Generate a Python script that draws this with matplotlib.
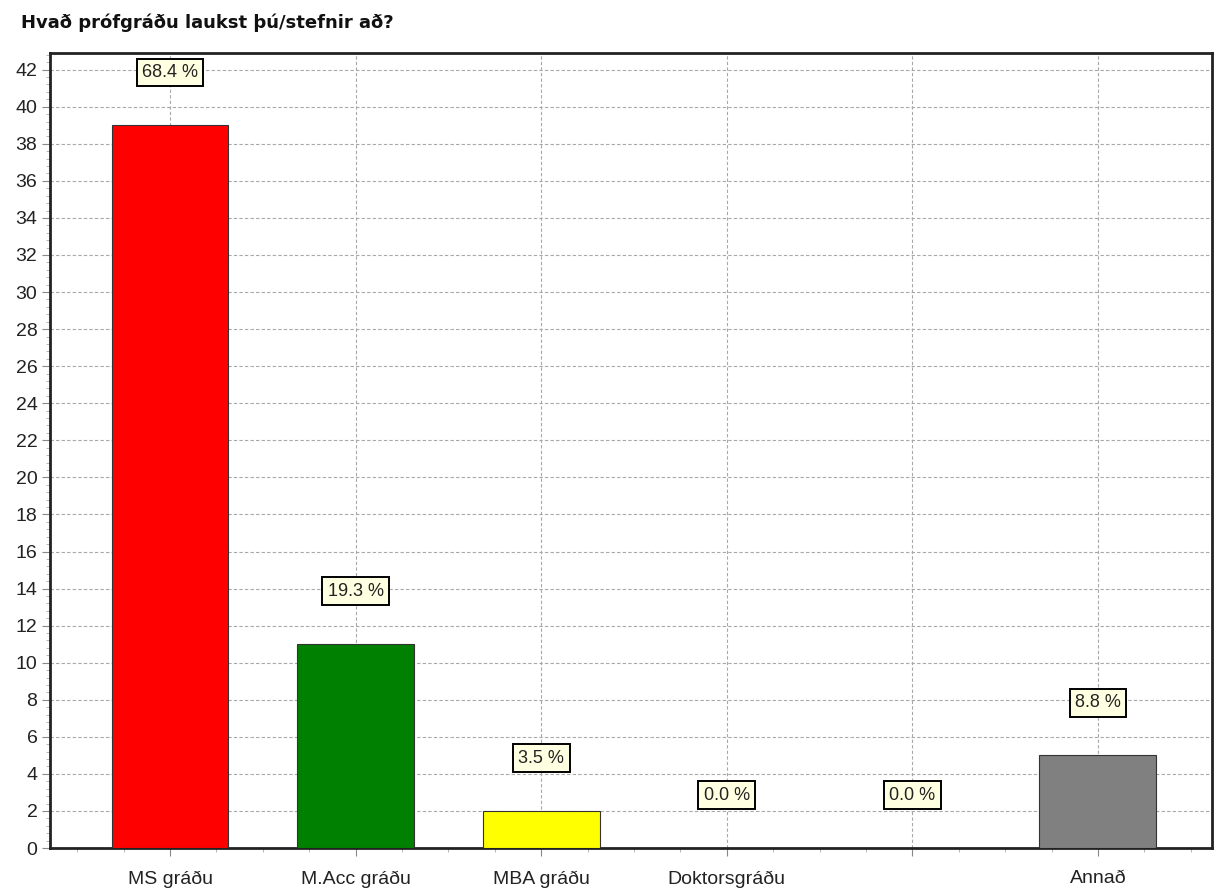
import numpy as np
import matplotlib.pyplot as plt
from matplotlib.ticker import MultipleLocator

categories = ['MS gráðu', 'M.Acc gráðu', 'MBA gráðu', 'Doktorsgráðu', '', 'Annað']
counts = [39, 11, 2, 0, 0, 5]
percents = ['68.4 %', '19.3 %', '3.5 %', '0.0 %', '0.0 %', '8.8 %']
colors = ['#ff0000', '#008000', '#ffff00', '#808080', '#808080', '#808080']
title = 'Hvað prófgráðu laukst þú/stefnir að?'

plt.rcParams['font.family'] = ['Liberation Sans', 'DejaVu Sans']

fig = plt.figure(figsize=(12.18, 8.92), dpi=100)
ax = fig.add_axes([0.041, 0.0493, 0.954, 0.8913])

x = np.arange(len(categories))
ax.bar(x, counts, width=0.63, color=colors, edgecolor='#333333', linewidth=0.8, zorder=3)

for i, (v, p) in enumerate(zip(counts, percents)):
    ax.annotate(p, (i, v), xytext=(0, 38), textcoords='offset points',
                ha='center', va='center', fontsize=13, zorder=5, color='#222222',
                bbox=dict(boxstyle='square,pad=0.3', fc='#ffffe1', ec='black', lw=1.4))

ax.set_xlim(-0.647, 5.614)
ax.set_ylim(0, 42.9)
ax.set_xticks(x)
ax.set_xticklabels(categories, fontsize=14, color='#222222')
ax.set_yticks(np.arange(0, 43, 2))
ax.tick_params(axis='y', labelsize=14, labelcolor='#222222', pad=3)
ax.tick_params(axis='x', pad=10)
ax.xaxis.set_minor_locator(MultipleLocator(0.25))
ax.yaxis.set_minor_locator(MultipleLocator(0.4))
ax.tick_params(which='major', length=6, color='#888888', width=0.8)
ax.tick_params(which='minor', length=3, color='#aaaaaa', width=0.6)

ax.grid(True, which='major', linestyle=(0, (3, 2)), color='#a8a8a8', linewidth=0.8, zorder=0)
ax.set_axisbelow(True)
for s in ax.spines.values():
    s.set_linewidth(2)
    s.set_color('#222222')

fig.text(0.017, 0.975, title, fontsize=13, fontweight='bold', ha='left', va='center',
         color='#111111', family=['DejaVu Sans'])

fig.savefig('out.png', dpi=100)
